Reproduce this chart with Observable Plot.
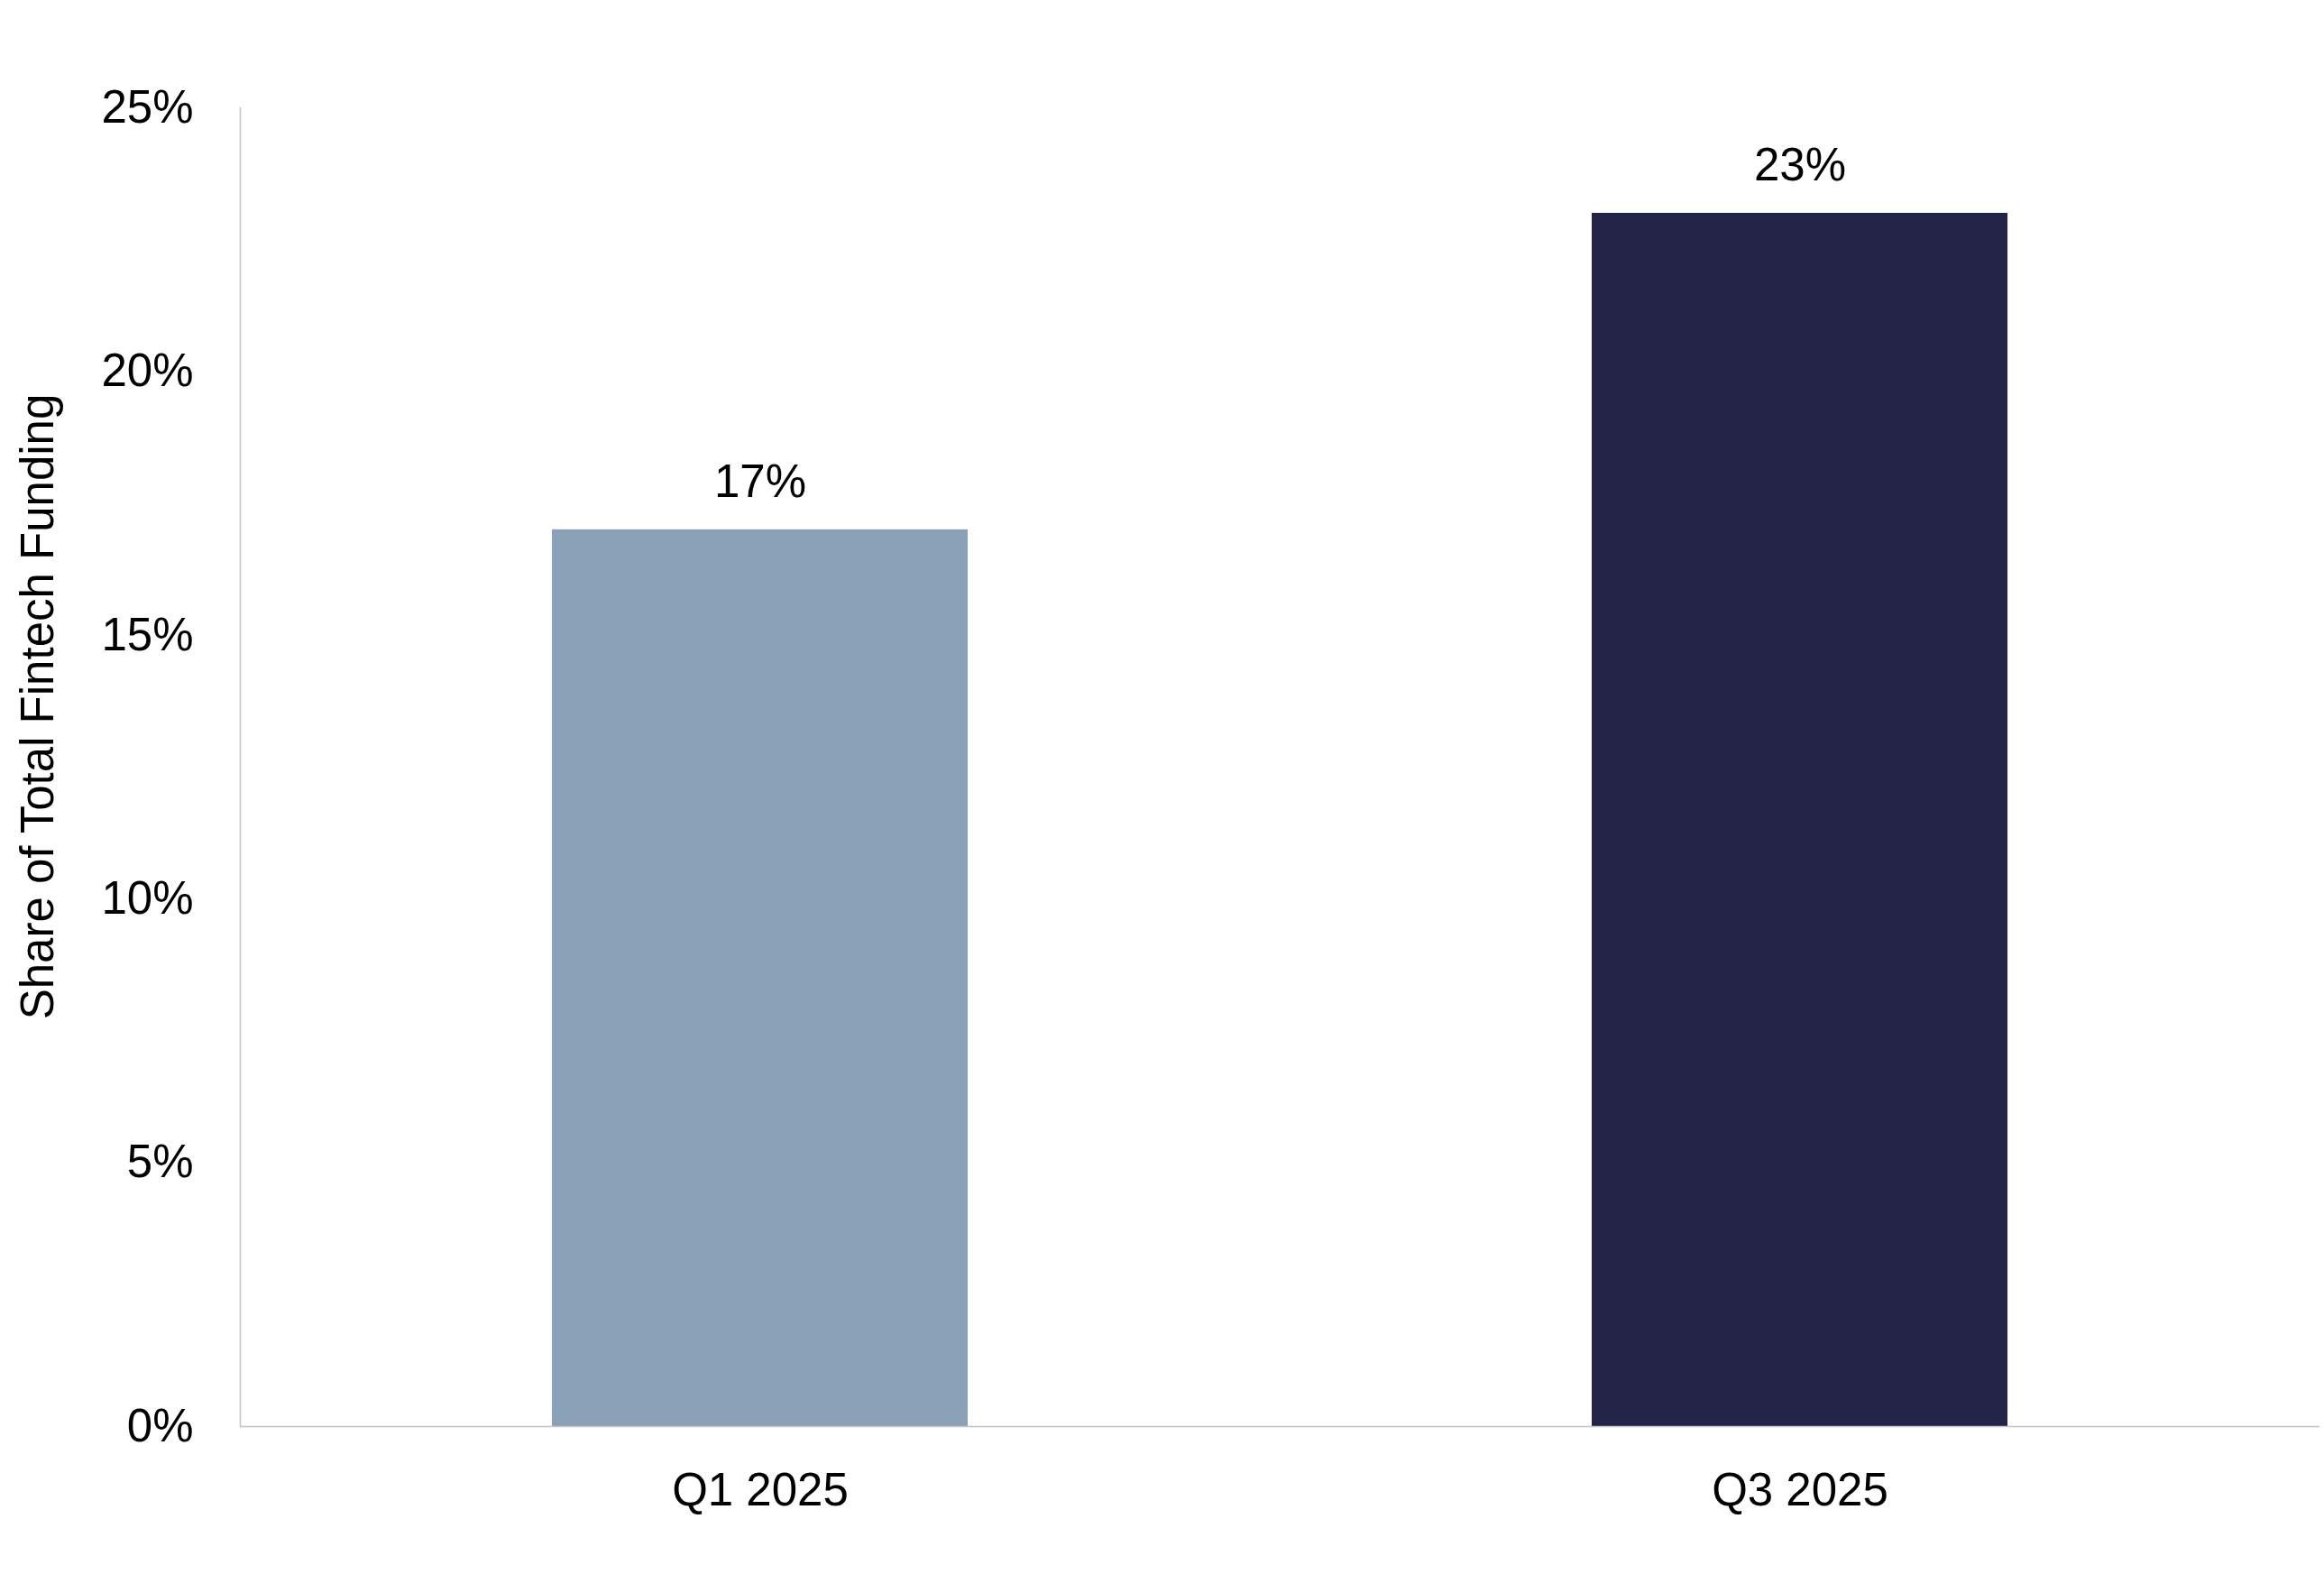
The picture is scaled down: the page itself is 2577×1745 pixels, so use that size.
<!DOCTYPE html>
<html>
<head>
<meta charset="utf-8">
<script src="https://cdn.jsdelivr.net/npm/d3@7"></script>
<script src="https://cdn.jsdelivr.net/npm/@observablehq/plot@0.6"></script>
<style>
  html, body { margin: 0; padding: 0; background: #ffffff; }
  #chart { width: 2577px; height: 1745px; }
</style>
</head>
<body>
<div id="chart"></div>
<script>
const quarters = ["Q1 2025", "Q3 2025"];
const shares = [0.17, 0.23];
const barColors = ["#8AA0B7", "#232347"];
const yTicks = [0, 0.05, 0.10, 0.15, 0.20, 0.25];
const yTitle = "Share of Total Fintech Funding";

const data = quarters.map((q, i) => ({ quarter: q, share: shares[i] }));
const pct = d3.format(".0%");

const chart = Plot.plot({
  width: 2577,
  height: 1745,
  marginLeft: 266,
  marginRight: 5,
  marginTop: 119,
  marginBottom: 164,
  style: {
    fontFamily: "'Liberation Sans', Arial, sans-serif",
    fontSize: "51px",
    background: "#ffffff",
    color: "#000000"
  },
  x: {
    domain: quarters,
    paddingInner: 0.6,
    paddingOuter: 0.3,
    tickSize: 0,
    tickPadding: 51,
    label: null
  },
  y: {
    domain: [0, 0.25],
    ticks: yTicks,
    tickFormat: pct,
    tickSize: 0,
    tickPadding: 52,
    label: null
  },
  color: { domain: quarters, range: barColors },
  marks: [
    Plot.barY(data, { x: "quarter", y: "share", fill: "quarter" }),
    Plot.frame({ anchor: "left", stroke: "#C4C4C4", strokeWidth: 1.5 }),
    Plot.ruleY([0], { stroke: "#C4C4C4", strokeWidth: 1.5 }),
    Plot.text(data, {
      x: "quarter",
      y: "share",
      text: d => pct(d.share),
      dy: -53,
      fontSize: 51,
      fill: "#000000"
    }),
    Plot.text([yTitle], {
      frameAnchor: "left",
      textAnchor: "middle",
      lineAnchor: "middle",
      rotate: -90,
      dx: -224,
      dy: -67,
      fontSize: 51,
      fill: "#000000"
    })
  ]
});

document.getElementById("chart").appendChild(chart);
</script>
</body>
</html>
